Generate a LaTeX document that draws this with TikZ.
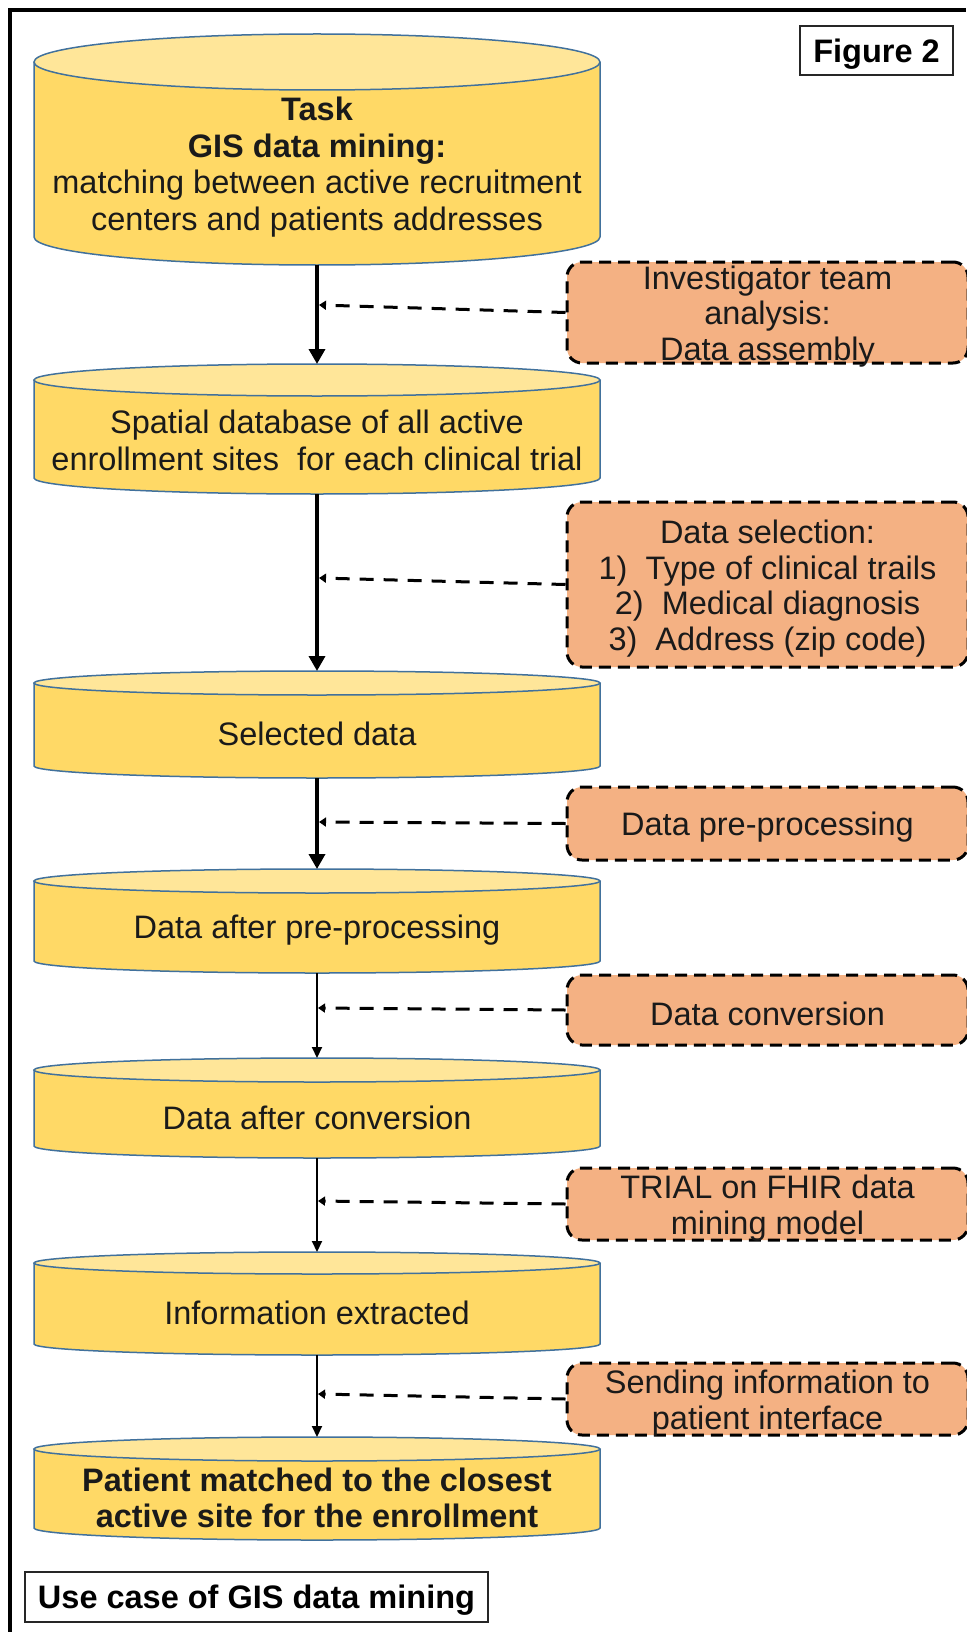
\documentclass[tikz,border=0pt]{standalone}
\usepackage{fontspec}
\setmainfont{Liberation Sans}
\usetikzlibrary{arrows.meta}
\definecolor{cylbody}{HTML}{FFD966}
\definecolor{cylcap}{HTML}{FFE699}
\definecolor{cylline}{HTML}{41719C}
\definecolor{procfill}{HTML}{F4B183}
\definecolor{txt}{HTML}{1A1A1A}
\tikzset{
  cylframe/.style={rectangle, inner sep=0pt, outer sep=0pt, minimum width=566pt},
  cyltext/.style={align=center, inner sep=0pt, text=txt, font=\fontsize{32.5}{36.5}\selectfont},
  procbox/.style={rectangle, rounded corners=15pt, draw=black, fill=procfill, line width=3pt,
     dash pattern=on 12pt off 7pt, minimum width=401pt, inner sep=0pt},
  proctext/.style={align=center, inner sep=0pt, text=txt, font=\fontsize{32.5}{35.5}\selectfont},
  flowthick/.style={line width=3.5pt, -{Triangle[length=15pt,width=16pt]}},
  flowthin/.style={line width=2pt, -{Triangle[length=11pt,width=10pt]}},
  feed/.style={line width=3pt, dash pattern=on 14pt off 10pt, -{Triangle[length=7pt,width=9pt]}},
  labelbox/.style={rectangle, draw=black!85, line width=2pt, inner sep=0pt, text=black,
     text height=26pt, text depth=2.7pt,
     font=\fontsize{32.5}{36}\selectfont\bfseries}
}
\newcommand\dbcyl[5]{%
  \pgfmathsetmacro\cylh{#3-#2}%
  \pgfmathsetmacro\cylmid{-(#2+#3)/2}%
  \pgfmathsetmacro\cyltxt{-(#2+#3+#4)/2-3.5}%
  \fill[cylbody] (34,-#2-#4) -- (34,-#3+#4) arc[start angle=180,end angle=360,x radius=283,y radius=#4] -- (600,-#2-#4) -- cycle;
  \draw[cylline, line width=1.5pt] (34,-#2-#4) -- (34,-#3+#4) arc[start angle=180,end angle=360,x radius=283,y radius=#4] -- (600,-#2-#4);
  \draw[cylline, fill=cylcap, line width=1.5pt] (317,-#2-#4) ellipse[x radius=283, y radius=#4];
  \node[cylframe, minimum height=\cylh pt] (#1) at (317,\cylmid) {};
  \node[cyltext] (#1t) at (317,\cyltxt) {#5};
}
\newcommand\procstep[4]{%
  \node[procbox, minimum height=#3pt] (#1) at (767.5,-#2) {};
  \node[proctext] (#1t) at ([yshift=-4pt]#1.center) {#4};
}
\begin{document}
\begin{tikzpicture}[x=1pt,y=1pt]
\useasboundingbox[fill=white] (0,0) rectangle (966,-1632);
\draw[line width=3.5pt] (10,-1632) -- (10,-10) -- (966,-10);

\node[labelbox, minimum width=153pt, minimum height=49pt] (fig) at (876.5,-50.5) {Figure 2};

\dbcyl{c1}{34}{265}{28}{{\bfseries Task}\\{\bfseries GIS data mining:}\\matching between active recruitment\\centers and patients addresses}
\dbcyl{c2}{364}{494}{16}{Spatial database of all active\\enrollment sites\ \ for each clinical trial}
\dbcyl{c3}{671}{778}{12}{Selected data}
\dbcyl{c4}{869}{973}{12}{Data after pre-processing}
\dbcyl{c5}{1058}{1158}{12}{Data after conversion}
\dbcyl{c6}{1252}{1355}{11}{Information extracted}
\dbcyl{c7}{1437}{1540}{12}{{\bfseries Patient matched to the closest}\\{\bfseries active site for the enrollment}}

\procstep{d1}{312.5}{101}{Investigator team\\analysis:\\Data assembly}
\procstep{d2}{584.5}{165}{Data selection:\\1)\hspace{18pt}Type of clinical trails\\2)\hspace{18pt}Medical diagnosis\\3)\hspace{18pt}Address (zip code)}
\procstep{d3}{823.5}{73}{Data pre-processing}
\procstep{d4}{1010}{70}{Data conversion}
\procstep{d5}{1204}{72}{TRIAL on FHIR data\\mining model}
\procstep{d6}{1399}{72}{Sending information to\\patient interface}

\draw[flowthick] (c1.south) -- (c2.north);
\draw[flowthick] (c2.south) -- (c3.north);
\draw[flowthick] (c3.south) -- (c4.north);
\draw[flowthin] (c4.south) -- (c5.north);
\draw[flowthin] (c5.south) -- (c6.north);
\draw[flowthin] (c6.south) -- (c7.north);

\coordinate (t1) at (319,-305);
\coordinate (t2) at (319,-578);
\coordinate (t3) at (319,-822);
\coordinate (t4) at (318,-1008);
\coordinate (t5) at (318,-1201);
\coordinate (t6) at (318,-1394);
\draw[feed] (d1.west) -- (t1);
\draw[feed] (d2.west) -- (t2);
\draw[feed] (d3.west) -- (t3);
\draw[feed] (d4.west) -- (t4);
\draw[feed] (d5.west) -- (t5);
\draw[feed] (d6.west) -- (t6);

\node[labelbox, minimum width=463pt, minimum height=50pt] (use) at (256.5,-1597) {Use case of GIS data mining};
\end{tikzpicture}
\end{document}
